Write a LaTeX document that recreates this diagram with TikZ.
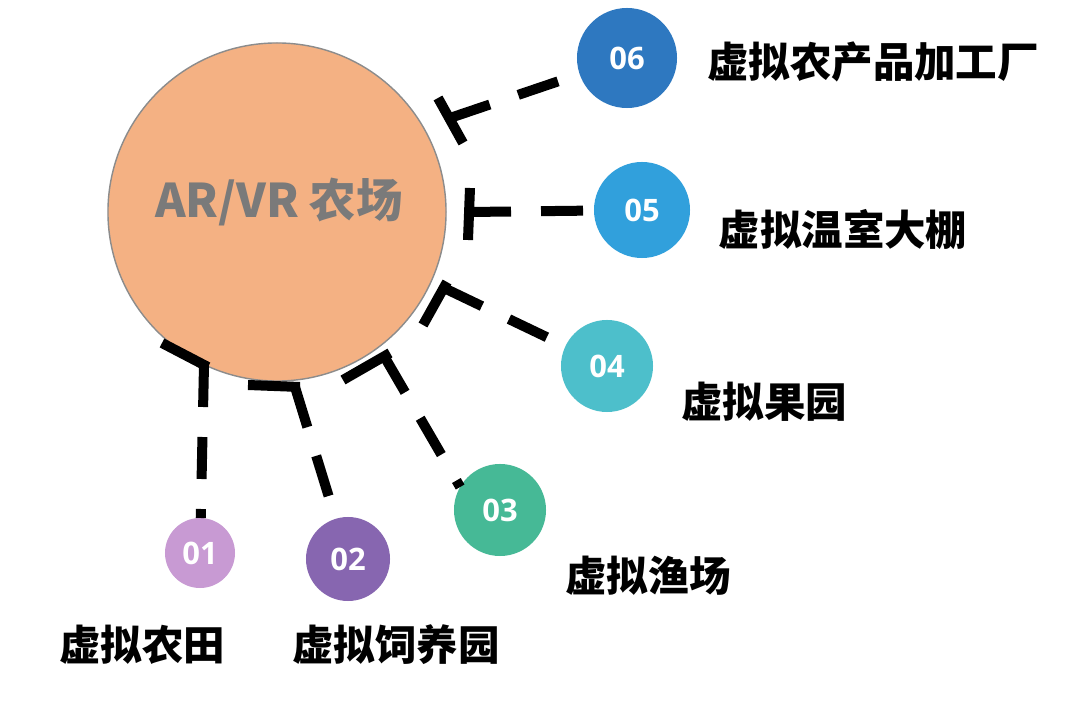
\documentclass[tikz,border=0pt]{standalone}
\usepackage{fontspec}
\newfontfamily\cjk{Noto Sans CJK SC}
\newfontfamily\numfont{Open Sans}
\definecolor{arancio}{HTML}{F4B183}
\definecolor{bordo}{HTML}{8C8C8C}
\definecolor{blu6}{HTML}{2E78C0}
\definecolor{blu5}{HTML}{31A0DC}
\definecolor{ciano4}{HTML}{4DBFCB}
\definecolor{verde3}{HTML}{46B996}
\definecolor{viola2}{HTML}{8766B0}
\definecolor{lilla1}{HTML}{C89AD3}
\definecolor{grigiotit}{HTML}{7A7A7A}
\begin{document}
\begin{tikzpicture}[x=0.025cm, y=-0.025cm,
			nucleo/.style={circle, fill=arancio, draw=bordo, line width=1pt, inner sep=0pt, outer sep=0pt, minimum size=8.45cm},
			bolla/.style={circle, inner sep=0pt, outer sep=0pt, text=white, font=\numfont\bfseries\fontsize{22}{22}\selectfont},
			tratto/.style={line width=0.25cm, dash pattern=on 1.05cm off 0.75cm, black},
			barra/.style={line width=0.25cm, black},
			etic/.style={font=\cjk\bfseries\fontsize{29.5}{30}\selectfont, text=black},
			titolo/.style={font=\cjk\bfseries\fontsize{33}{34}\selectfont, text=grigiotit},
			]
			
			\fill[white] (0,0) rectangle (1080,701);
			\useasboundingbox (0,0) rectangle (1080,701);
			
			%%═══ NODO CENTRALE ══════════════════════════
			\node[nucleo] (farm) at (277,212) {};
			\node[titolo] (tit) at (279,202) {AR/VR 农场};
			
			%%═══ SATELLITI ══════════════════════════════
			\node[bolla, fill=lilla1, minimum size=1.75cm] (c01) at (200,553) {01};
			\node[bolla, fill=viola2, minimum size=2.1cm]  (c02) at (348,559) {02};
			\node[bolla, fill=verde3, minimum size=2.3cm]  (c03) at (500,510) {03};
			\node[bolla, fill=ciano4, minimum size=2.3cm]  (c04) at (607,366) {04};
			\node[bolla, fill=blu5, minimum size=2.4cm]    (c05) at (642,210) {05};
			\node[bolla, fill=blu6, minimum size=2.5cm]    (c06) at (627,58)  {06};
			
			% etichette
			\node[etic] (l01) at (142,645) {虚拟农田};
			\node[etic] (l02) at (396,645) {虚拟饲养园};
			\node[etic] (l03) at (648,576) {虚拟渔场};
			\node[etic] (l04) at (764,402) {虚拟果园};
			\node[etic] (l05) at (843,230) {虚拟温室大棚};
			\node[etic] (l06) at (873,62)  {虚拟农产品加工厂};
			
			%%═══ CONNETTORI (barra + tratteggio) ════════
			% estremi delle barre e punto di attacco
			\coordinate (b01a) at (162,343); \coordinate (b01b) at (208,367); \coordinate (j01) at (204,365);
			\coordinate (b02a) at (248,385); \coordinate (b02b) at (300,387); \coordinate (j02) at (295,387);
			\coordinate (b03a) at (343,380); \coordinate (b03b) at (390,353); \coordinate (j03) at (384,356);
			\coordinate (b04a) at (423,325); \coordinate (b04b) at (447,282); \coordinate (j04) at (444,288);
			\coordinate (b05a) at (470,188); \coordinate (b05b) at (468,240); \coordinate (j05) at (469,212);
			\coordinate (b06a) at (438,98);  \coordinate (b06b) at (463,143); \coordinate (j06) at (450,118);
			
			\draw[barra] (b01a) -- (b01b);
			\draw[tratto] (j01) -- (c01);
			\draw[barra] (b02a) -- (b02b);
			\draw[tratto] (j02) -- (c02);
			\draw[barra] (b03a) -- (b03b);
			\draw[tratto] (j03) -- (c03.150);
			\draw[barra] (b04a) -- (b04b);
			\draw[tratto] (j04) -- (c04);
			\draw[barra] (b05a) -- (b05b);
			\draw[tratto] (j05) -- (c05);
			\draw[barra] (b06a) -- (b06b);
			\draw[tratto] (j06) -- (c06);
			
		\end{tikzpicture}
\end{document}
